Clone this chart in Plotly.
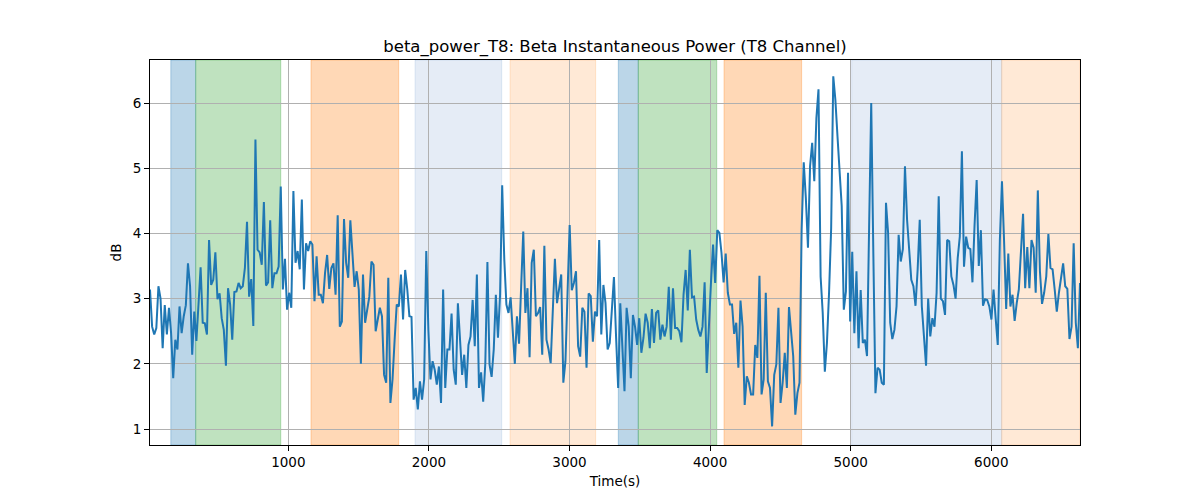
import numpy as np
import plotly.graph_objects as go

# Zaman ekseni (s): sabit örnekleme aralığı
T0 = 16.0
DT = 15.0

# beta_power_T8 değerleri (dB)
power_db = [
    3.14, 2.57, 2.45, 2.55, 3.19, 3.0, 2.24, 2.9, 2.45, 2.86, 2.47, 1.78, 2.37, 2.22, 2.88, 2.47,
    2.73, 2.9, 3.54, 3.19, 2.14, 2.8, 2.35, 2.88, 3.48, 2.63, 2.62, 2.45, 3.9, 3.21, 3.29, 3.71,
    2.99, 3.08, 2.7, 2.52, 1.97, 3.16, 2.91, 2.37, 3.1, 3.11, 3.24, 3.16, 3.19, 3.47, 4.18, 3.03,
    3.3, 2.58, 5.44, 3.75, 3.71, 3.52, 4.48, 3.2, 3.25, 4.2, 3.16, 3.39, 3.39, 3.49, 4.72, 3.14,
    3.61, 2.83, 3.09, 2.86, 4.65, 3.55, 3.73, 3.45, 4.52, 3.14, 3.85, 3.73, 3.88,
    3.83, 2.96, 3.65, 3.06, 3.06, 2.93, 3.39, 3.67, 3.15, 3.47, 3.54, 3.06, 4.28, 2.57, 2.65, 4.22,
    3.55, 3.32, 4.2, 3.63, 3.18, 3.42, 3.14, 2.0, 3.37, 2.63, 2.86, 3.03, 3.57, 3.52, 2.5, 2.68,
    2.86, 2.73, 1.83, 1.71, 3.32, 1.4, 1.76, 2.37, 2.91, 2.88, 3.37, 2.68, 3.44, 3.14, 2.73, 2.72,
    1.45, 1.63, 1.3, 1.73, 1.45, 1.76, 3.73, 2.52, 1.76, 2.04, 1.91, 1.68, 1.96, 1.4, 3.14, 1.63,
    2.22, 2.22, 2.77, 1.91, 1.68, 2.93,
    2.42, 1.83, 2.14, 1.63, 2.29, 2.42, 2.98, 2.27, 3.37, 1.63, 1.87, 1.42, 2.01, 3.56, 1.99, 1.8,
    2.22, 3.06, 2.4, 3.06, 4.74, 3.6, 2.91, 2.78, 3.02, 2.47, 2.0, 2.73, 2.31, 3.19, 4.03, 2.78,
    3.16, 2.1, 3.55, 3.75, 2.73, 2.78, 2.87, 2.14, 3.81, 2.37, 2.22, 2.01, 2.86, 3.61, 2.93, 3.19,
    3.37, 1.71, 2.04, 3.09, 4.13, 3.13, 3.24, 3.42, 2.27, 2.11, 2.86, 2.8, 1.94, 3.08, 3.04, 2.34,
    2.8, 2.73, 3.9, 2.45, 3.21, 2.93, 2.22,
    2.32, 2.88, 3.33, 2.42, 1.63, 2.93, 2.27, 1.58, 2.86, 2.57, 1.78, 2.75, 2.57, 2.29, 2.7, 2.17,
    2.4, 2.77, 2.63, 2.24, 2.84, 2.32, 2.78, 2.82, 2.37, 2.6, 2.42, 2.57, 3.18, 2.37, 3.16, 2.55,
    2.55, 2.5, 2.33, 3.06, 3.44, 2.82, 3.75, 3.02, 3.03, 2.68, 2.52, 2.42, 2.57, 3.25, 1.86, 2.65,
    3.24, 3.83, 3.24, 4.05, 4.01, 3.7, 3.25, 3.69, 3.09, 2.91, 2.91, 2.46, 2.63, 1.94, 2.97, 2.57,
    1.37, 1.81, 1.71, 1.53, 1.53, 2.29, 2.09, 3.35,
    1.53, 1.76, 3.09, 1.73, 1.63, 1.04, 1.83, 1.99, 2.86, 1.4, 1.71, 2.17, 1.63, 2.87, 2.47, 2.12,
    1.22, 1.55, 1.71, 4.06, 5.09, 4.54, 3.78, 5.03, 5.39, 4.8, 5.77, 6.21, 3.34, 2.78, 1.88, 2.32,
    3.09, 4.08, 6.41, 6.05, 5.49, 5.03, 4.42, 2.83, 3.11, 4.93, 2.65, 3.72, 2.47, 3.42, 2.24, 3.13,
    2.32, 2.37, 2.12, 4.1, 6.0, 3.7, 1.55, 1.94, 1.91, 1.71, 1.68, 4.47, 4.01, 2.63, 2.38, 2.52,
    2.88, 3.98, 3.57, 3.76, 5.03,
    4.21, 3.7, 3.29, 3.19, 2.89, 3.44, 4.21, 2.88, 2.37, 1.97, 3.0, 2.42, 2.7, 2.57, 3.09, 4.57,
    3.0, 2.96, 2.75, 3.9, 3.88, 3.34, 3.21, 3.0, 3.62, 3.95, 5.26, 3.49, 3.95, 3.78, 3.76, 3.25,
    4.13, 4.82, 3.5, 4.05, 2.89, 2.99, 2.98, 2.88, 2.68, 3.14, 2.7, 2.29, 3.9, 4.8, 3.88, 2.84,
    3.69, 2.88, 3.06, 2.66, 2.93, 3.14, 3.72, 4.3, 3.16, 3.79, 3.16, 3.9, 3.78, 3.09, 4.66, 3.42,
    2.92, 3.09, 3.34, 3.99, 3.47, 3.45, 3.14, 2.8, 3.09, 3.29, 3.54, 3.19, 3.15, 2.38, 2.57, 3.85,
    2.63, 2.24, 3.24,
]

time_s = T0 + DT * np.arange(len(power_db))

# Olay aralıkları (s) ve türleri
band_starts = [164, 341, 1161, 1901, 2577, 3347, 3489, 4099, 5007, 6074]
band_ends = [341, 946, 1785, 2518, 3186, 3489, 4047, 4651, 6074, float(time_s[-1])]
band_kinds = ['blue', 'green', 'orange', 'lightblue', 'lightorange',
              'blue', 'green', 'orange', 'lightblue', 'lightorange']

band_colors = {
    'blue': 'rgba(31,119,180,0.3)',
    'green': 'rgba(44,160,44,0.3)',
    'orange': 'rgba(255,127,14,0.3)',
    'lightblue': 'rgba(40,100,180,0.12)',
    'lightorange': 'rgba(255,127,14,0.17)',
}

fig = go.Figure()

for start, end, kind in zip(band_starts, band_ends, band_kinds):
    fig.add_vrect(
        x0=start, x1=end,
        fillcolor=band_colors[kind],
        line=dict(color=band_colors[kind], width=1),
        layer='below',
    )

fig.add_trace(
    go.Scatter(
        x=time_s,
        y=power_db,
        mode='lines',
        line=dict(color='#1f77b4', width=2),
        showlegend=False,
    )
)

axis_style = dict(
    showline=True,
    linecolor='black',
    linewidth=1,
    mirror=True,
    ticks='outside',
    ticklen=5,
    tickcolor='black',
    showgrid=True,
    gridcolor='#b0b0b0',
    gridwidth=1,
    zeroline=False,
    tickfont=dict(size=13.5, color='black'),
)

fig.update_layout(
    width=1200,
    height=500,
    font=dict(family='DejaVu Sans', color='black'),
    plot_bgcolor='white',
    paper_bgcolor='white',
    margin=dict(l=150, r=120, t=60, b=55),
    title=dict(
        text='beta_power_T8: Beta Instantaneous Power (T8 Channel)',
        x=0.5, xref='paper', xanchor='center',
        y=1 - 46 / 500, yref='container', yanchor='middle',
        font=dict(size=16.5, color='black'),
    ),
    xaxis=dict(
        axis_style,
        range=[time_s[0], time_s[-1]],
        tickvals=[1000, 2000, 3000, 4000, 5000, 6000],
        title=dict(text='Time(s)', font=dict(size=13.5), standoff=7),
    ),
    yaxis=dict(
        axis_style,
        range=[0.755, 6.66],
        tickvals=[1, 2, 3, 4, 5, 6],
        title=dict(text='dB', font=dict(size=13.5), standoff=7),
    ),
)

# sayfa kenar boşluğunu kaldır
fig.write_html('out.html', config={'displayModeBar': False},
               post_script="document.body.style.margin='0';")
